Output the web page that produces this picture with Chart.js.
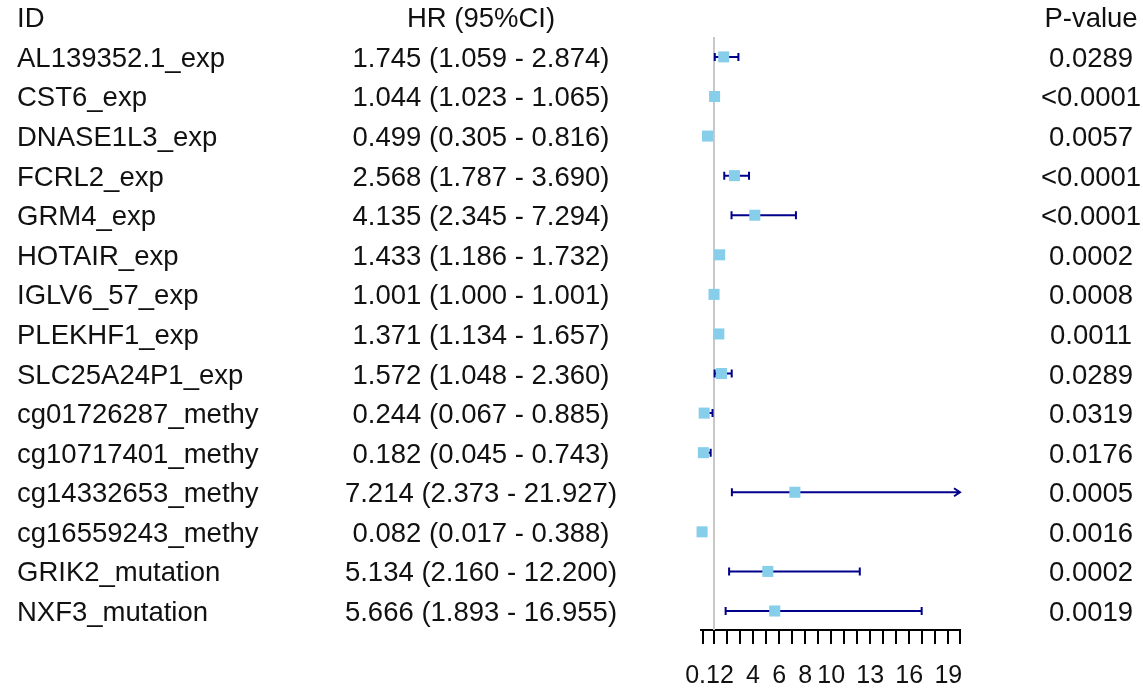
<!DOCTYPE html>
<html>
<head>
<meta charset="utf-8">
<script src="https://cdn.jsdelivr.net/npm/chart.js@4"></script>
<style>
  html, body { margin: 0; padding: 0; background: #fff; }
  #wrap { width: 1143px; height: 689px; position: relative; }
</style>
</head>
<body>
<div id="wrap"><canvas id="c"></canvas></div>
<script>
const ids = ['AL139352.1_exp','CST6_exp','DNASE1L3_exp','FCRL2_exp','GRM4_exp','HOTAIR_exp','IGLV6_57_exp','PLEKHF1_exp','SLC25A24P1_exp','cg01726287_methy','cg10717401_methy','cg14332653_methy','cg16559243_methy','GRIK2_mutation','NXF3_mutation'];
const hr    = [1.745, 1.044, 0.499, 2.568, 4.135, 1.433, 1.001, 1.371, 1.572, 0.244, 0.182, 7.214, 0.082, 5.134, 5.666];
const lower = [1.059, 1.023, 0.305, 1.787, 2.345, 1.186, 1.000, 1.134, 1.048, 0.067, 0.045, 2.373, 0.017, 2.160, 1.893];
const upper = [2.874, 1.065, 0.816, 3.690, 7.294, 1.732, 1.001, 1.657, 2.360, 0.885, 0.743, 21.927, 0.388, 12.200, 16.955];
const pValues = ['0.0289','<0.0001','0.0057','<0.0001','<0.0001','0.0002','0.0008','0.0011','0.0289','0.0319','0.0176','0.0005','0.0016','0.0002','0.0019'];
const headers = ['ID', 'HR (95%CI)', 'P-value'];
const tickValues = [0.12,1,2,3,4,5,6,7,8,9,10,11,12,13,14,15,16,17,18,19,19.9];
const tickLabels = ['0.1','','2','','4','','6','','8','','10','','','13','','','16','','','19',''];
const refValue = 1;

const TEXT_FONT = '27.5px "Liberation Sans", Arial, sans-serif';
const COLS = { id: 17, hr: 481, p: 1091 };

const bgPlugin = {
  id: 'bg',
  beforeDraw(chart) {
    const ctx = chart.ctx;
    ctx.save();
    ctx.fillStyle = '#fff';
    ctx.fillRect(0, 0, chart.width, chart.height);
    ctx.restore();
  }
};

const forestPlugin = {
  id: 'forest',
  beforeDatasetsDraw(chart) {
    const ctx = chart.ctx;
    const xs = chart.scales.x, ys = chart.scales.y;
    const area = chart.chartArea;
    ctx.save();
    ctx.strokeStyle = '#c8c8c8';
    ctx.lineWidth = 2;
    const rx = xs.getPixelForValue(refValue);
    ctx.beginPath();
    ctx.moveTo(rx, ys.getPixelForValue(-0.5));
    ctx.lineTo(rx, area.bottom);
    ctx.stroke();
    ctx.strokeStyle = '#00008B';
    ctx.lineWidth = 2;
    for (let i = 0; i < ids.length; i++) {
      const y = ys.getPixelForValue(i);
      const x1 = xs.getPixelForValue(lower[i]);
      const over = upper[i] > xs.max;
      const x2 = over ? xs.getPixelForValue(xs.max) : xs.getPixelForValue(upper[i]);
      ctx.beginPath();
      ctx.moveTo(x1, y); ctx.lineTo(x2, y);
      ctx.moveTo(x1, y - 4); ctx.lineTo(x1, y + 4);
      if (over) {
        ctx.moveTo(x2 - 6, y - 4); ctx.lineTo(x2, y); ctx.lineTo(x2 - 6, y + 4);
      } else {
        ctx.moveTo(x2, y - 4); ctx.lineTo(x2, y + 4);
      }
      ctx.stroke();
    }
    ctx.restore();
  },
  afterDraw(chart) {
    const ctx = chart.ctx;
    const ys = chart.scales.y;
    ctx.save();
    ctx.font = TEXT_FONT;
    ctx.fillStyle = '#111';
    ctx.textBaseline = 'alphabetic';
    const off = 10;
    const hy = ys.getPixelForValue(-1) + off;
    ctx.textAlign = 'left';  ctx.fillText(headers[0], COLS.id, hy);
    ctx.textAlign = 'center'; ctx.fillText(headers[1], COLS.hr, hy);
    ctx.fillText(headers[2], COLS.p, hy);
    for (let i = 0; i < ids.length; i++) {
      const y = ys.getPixelForValue(i) + off;
      ctx.textAlign = 'left';
      ctx.fillText(ids[i], COLS.id, y);
      ctx.textAlign = 'center';
      ctx.fillText(hr[i].toFixed(3) + ' (' + lower[i].toFixed(3) + ' - ' + upper[i].toFixed(3) + ')', COLS.hr, y);
      ctx.fillText(pValues[i], COLS.p, y);
    }
    ctx.restore();
  }
};

new Chart(document.getElementById('c'), {
  type: 'scatter',
  data: {
    datasets: [{
      data: hr.map((v, i) => ({ x: v, y: i })),
      pointStyle: 'rect',
      pointRadius: 7.8,
      pointHoverRadius: 7.8,
      backgroundColor: '#87CEEB',
      borderColor: '#87CEEB',
      borderWidth: 0,
      clip: false
    }]
  },
  options: {
    responsive: true,
    maintainAspectRatio: false,
    animation: false,
    events: [],
    layout: { autoPadding: false, padding: { left: 701, right: 183, top: 0, bottom: -19 } },
    plugins: { legend: { display: false }, tooltip: { enabled: false }, title: { display: false } },
    scales: {
      x: {
        type: 'linear',
        min: 0,
        max: 19.9,
        position: 'bottom',
        afterBuildTicks(scale) { scale.ticks = tickValues.map(v => ({ value: v })); },
        ticks: {
          autoSkip: false,
          maxRotation: 0,
          minRotation: 0,
          padding: 17,
          color: '#111',
          font: { family: '"Liberation Sans Narrow", "Arial Narrow", "Liberation Sans", Arial, sans-serif', size: 25 },
          callback: (value, index) => tickLabels[index]
        },
        grid: { drawOnChartArea: false, drawTicks: true, tickLength: 14, color: '#000', lineWidth: 2 },
        border: { display: true, color: '#000', width: 2 }
      },
      y: {
        type: 'linear',
        display: false,
        reverse: true,
        min: -57 / 39.64,
        max: (631 - 57) / 39.64
      }
    }
  },
  plugins: [bgPlugin, forestPlugin]
});
</script>
</body>
</html>
